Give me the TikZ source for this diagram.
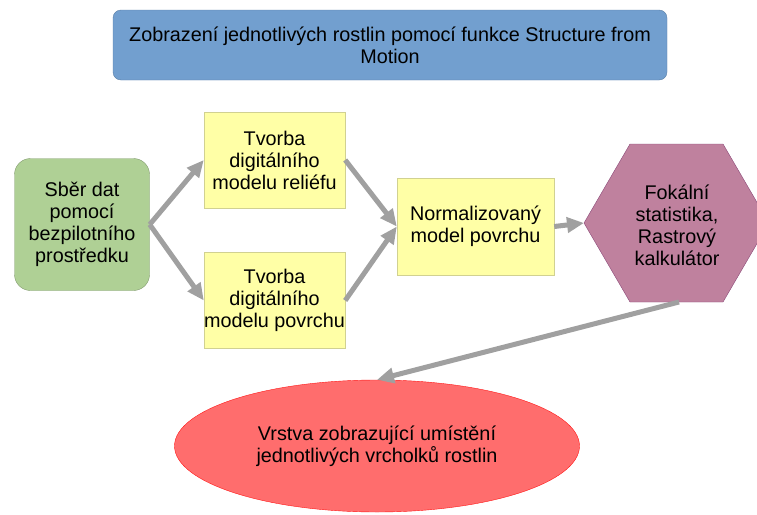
\documentclass[tikz,border=0pt]{standalone}
\usepackage{fontspec}
\setmainfont{Liberation Sans}
\usetikzlibrary{arrows.meta,shapes.geometric}
\definecolor{boxblue}{HTML}{729FCF}
\definecolor{boxgreen}{HTML}{AFD095}
\definecolor{boxyellow}{HTML}{FFFFA6}
\definecolor{boxpurple}{HTML}{BF819E}
\definecolor{boxred}{HTML}{FF6D6D}
\definecolor{arrowgray}{HTML}{A0A0A0}

\begin{document}
\begin{tikzpicture}[x=1pt,y=-1pt,
font=\fontsize{19.8}{22}\selectfont,
box/.style={rectangle,draw,align=center,inner sep=0pt},
ybox/.style={box,fill=boxyellow,draw=boxyellow!80!black!90,minimum width=141pt,minimum height=96pt},
arrow/.style={-{Triangle[length=17pt,width=15pt]},line width=5pt,arrowgray}]
\useasboundingbox (0,0) rectangle (757,514);
\node[box,rounded corners=8pt,fill=boxblue,draw=boxblue!80!black,minimum width=554pt,minimum height=70pt](sfm) at (390,45){Zobrazení jednotlivých rostlin pomocí funkce Structure from\\Motion};
\node[box,rounded corners=16pt,fill=boxgreen,draw=boxgreen!75!black,minimum width=135pt,minimum height=132pt](sber) at (82,224.5){Sběr dat\\pomocí\\bezpilotního\\prostředku};
\node[ybox](dmr) at (274.5,160){Tvorba\\digitálního\\modelu reliéfu};
\node[ybox](dmp) at (274.5,300.5){Tvorba\\digitálního\\modelu povrchu};
\node[ybox,minimum width=157pt,minimum height=97pt](ndmp) at (475.5,226.5){Normalizovaný\\model povrchu};
% hexagon
\draw[fill=boxpurple,draw=boxpurple!70!violet!80!black] (584,223) -- (630,144) -- (723,144) -- (769,223) -- (723,302) -- (630,302) -- cycle;
\coordinate (hexW) at (584,223);
\coordinate (hexS) at (679,302);
\node[align=center](fokal) at (677,225){Fokální\\statistika,\\Rastrový\\kalkulátor};
\node[ellipse,draw=red!80!boxred,fill=boxred,align=center,inner sep=0pt,minimum width=405pt,minimum height=132pt](vrstva) at (377,446){Vrstva zobrazující umístění\\jednotlivých vrcholků rostlin};
\draw[arrow](sber.east)--(dmr.west);
\draw[arrow](sber.east)--(dmp.west);
\draw[arrow](dmr.east)--(ndmp.west);
\draw[arrow](dmp.east)--(ndmp.west);
\draw[arrow](ndmp.east)--(hexW);
\draw[arrow](hexS)--(vrstva.north);
\end{tikzpicture}
\end{document}
